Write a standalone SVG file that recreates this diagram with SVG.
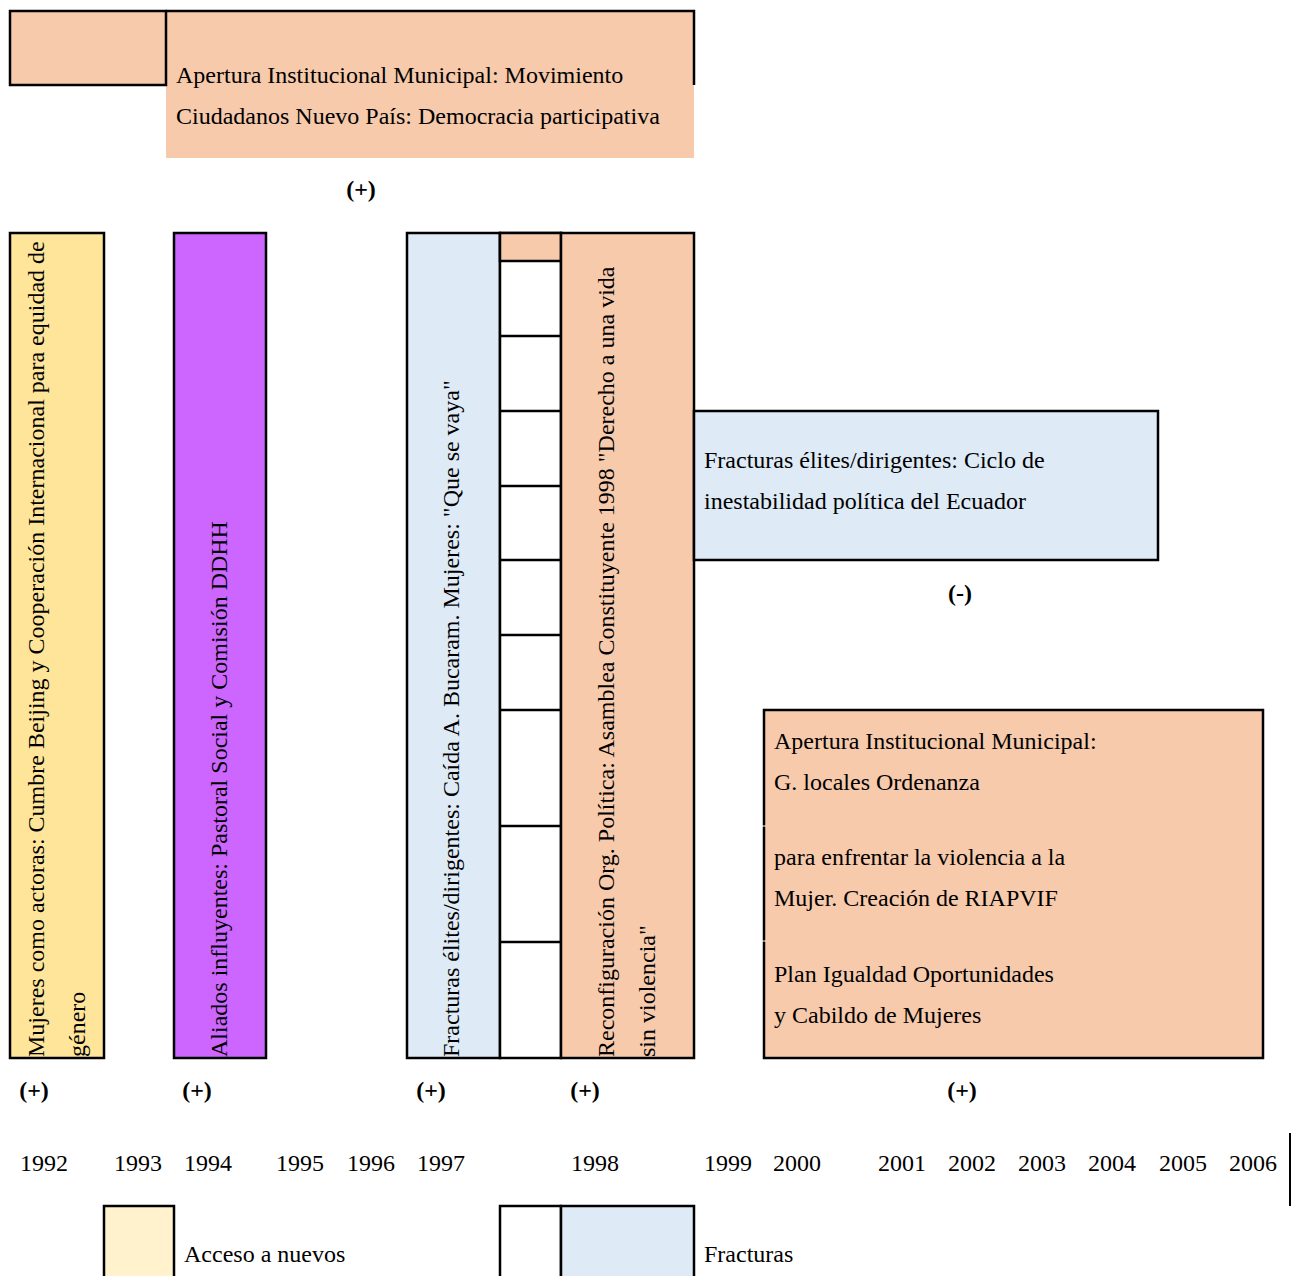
<svg xmlns="http://www.w3.org/2000/svg" width="1297" height="1276" viewBox="0 0 1297 1276">
<style>
text{font-family:"Liberation Serif","Times New Roman",serif;font-size:24px;fill:#000}
.b{font-weight:bold}
.box{stroke:#000;stroke-width:2.5}
.ln{stroke:#000;stroke-width:2.5;fill:none}
.peach{fill:#F7CAAC}
.yel{fill:#FFE599}
.pur{fill:#CC66FF}
.blu{fill:#DEEAF6}
.wht{fill:#FFFFFF}
.lyel{fill:#FFF2CC}
</style>
<rect width="1297" height="1276" fill="#fff"/>

<g id="top-municipal">
  <rect x="166" y="11" width="528" height="147" class="peach"/>
  <rect x="10" y="11" width="156" height="74" class="peach box"/>
  <path d="M166 11 H694 V85" class="ln"/>
  <text x="176" y="83">Apertura Institucional Municipal: Movimiento</text>
  <text x="176" y="124">Ciudadanos Nuevo País: Democracia participativa</text>
</g>
<g id="sign-top"><text x="361" y="197" class="b" text-anchor="middle">(+)</text></g>

<g id="mujeres-actoras">
  <rect x="10" y="233" width="94" height="825" class="yel box"/>
  <text transform="translate(44,1057) rotate(-90)">Mujeres como actoras: Cumbre Beijing y Cooperación Internacional para equidad de</text>
  <text transform="translate(85,1057) rotate(-90)">género</text>
</g>

<g id="aliados">
  <rect x="174" y="233" width="92" height="825" class="pur box"/>
  <text transform="translate(227,1057) rotate(-90)">Aliados influyentes: Pastoral Social y Comisión DDHH</text>
</g>

<g id="fracturas-bucaram">
  <rect x="407" y="233" width="93" height="825" class="blu box"/>
  <text transform="translate(459,1057) rotate(-90)">Fracturas élites/dirigentes: Caída A. Bucaram. Mujeres: "Que se vaya"</text>
</g>

<g id="white-cells">
  <rect x="500" y="233" width="61" height="825" class="wht box"/>
  <rect x="500" y="233" width="61" height="28" class="peach box"/>
  <path d="M500 336H561M500 411H561M500 486H561M500 560H561M500 635H561M500 710H561M500 826H561M500 942H561" class="ln"/>
</g>

<g id="reconfiguracion">
  <rect x="561" y="233" width="133" height="825" class="peach box"/>
  <text transform="translate(614,1057) rotate(-90)">Reconfiguración Org. Política: Asamblea Constituyente 1998 "Derecho a una vida</text>
  <text transform="translate(655,1057) rotate(-90)">sin violencia"</text>
</g>

<g id="fracturas-ciclo">
  <rect x="694" y="411" width="464" height="149" class="blu box"/>
  <text x="704" y="468">Fracturas élites/dirigentes: Ciclo de</text>
  <text x="704" y="509">inestabilidad política del Ecuador</text>
</g>
<g id="sign-minus"><text x="960" y="601" class="b" text-anchor="middle">(-)</text></g>

<g id="apertura-glocales">
  <rect x="764" y="710" width="499" height="348" class="peach box"/>
  <path d="M762 826H766M762 941H766" stroke="#fff" stroke-width="1"/>
  <text x="774" y="749">Apertura Institucional Municipal:</text>
  <text x="774" y="790">G. locales Ordenanza</text>
  <text x="774" y="865">para enfrentar la violencia a la</text>
  <text x="774" y="906">Mujer. Creación de RIAPVIF</text>
  <text x="774" y="982">Plan Igualdad Oportunidades</text>
  <text x="774" y="1023">y Cabildo de Mujeres</text>
</g>

<g id="signs-bottom" class="b">
  <text x="34" y="1098" class="b" text-anchor="middle">(+)</text>
  <text x="197" y="1098" class="b" text-anchor="middle">(+)</text>
  <text x="431" y="1098" class="b" text-anchor="middle">(+)</text>
  <text x="585" y="1098" class="b" text-anchor="middle">(+)</text>
  <text x="962" y="1098" class="b" text-anchor="middle">(+)</text>
</g>

<g id="years">
  <text x="20" y="1171">1992</text>
  <text x="114" y="1171">1993</text>
  <text x="184" y="1171">1994</text>
  <text x="276" y="1171">1995</text>
  <text x="347" y="1171">1996</text>
  <text x="417" y="1171">1997</text>
  <text x="571" y="1171">1998</text>
  <text x="704" y="1171">1999</text>
  <text x="773" y="1171">2000</text>
  <text x="878" y="1171">2001</text>
  <text x="948" y="1171">2002</text>
  <text x="1018" y="1171">2003</text>
  <text x="1088" y="1171">2004</text>
  <text x="1159" y="1171">2005</text>
  <text x="1229" y="1171">2006</text>
  <line x1="1290" y1="1133" x2="1290" y2="1206" stroke="#000" stroke-width="2"/>
</g>

<g id="legend-acceso">
  <rect x="104" y="1206" width="70" height="80" class="lyel box"/>
  <text x="184" y="1262">Acceso a nuevos</text>
</g>
<g id="legend-fracturas">
  <rect x="500" y="1206" width="61" height="80" class="wht box"/>
  <rect x="561" y="1206" width="133" height="80" class="blu box"/>
  <text x="704" y="1262">Fracturas</text>
</g>
<g id="connectors"></g>
</svg>
